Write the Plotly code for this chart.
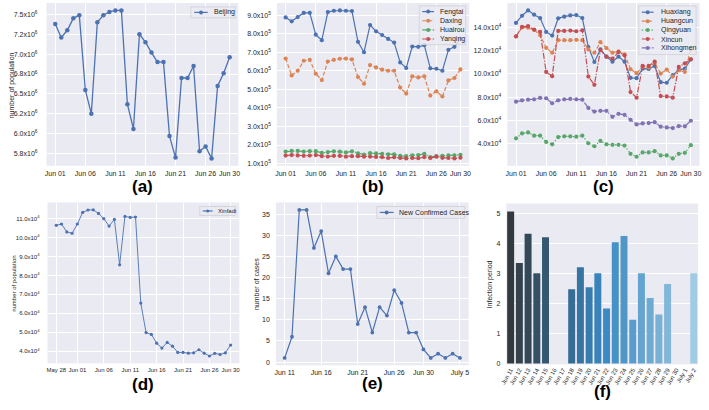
import plotly.graph_objects as go
import pandas as pd

W, H = 709, 410
FONT = "Liberation Sans, Arial, sans-serif"
TXT = "#262626"
C_BLUE, C_ORANGE, C_GREEN, C_RED, C_PURPLE = "#4C72B0", "#DD8452", "#55A868", "#C44E52", "#8172B3"

# ---------------- data ----------------
june_dates = [d.strftime("%Y-%m-%d") for d in pd.date_range("2020-06-01", "2020-06-30")]
xinfadi_dates = [d.strftime("%Y-%m-%d") for d in pd.date_range("2020-05-28", "2020-06-30")]
case_dates = [d.strftime("%Y-%m-%d") for d in pd.date_range("2020-06-11", "2020-07-05")]

beijing = [7.38e6, 7.21e6, 7.30e6, 7.45e6, 7.49e6, 6.55e6, 6.25e6, 7.40e6, 7.49e6, 7.53e6,
           7.55e6, 7.55e6, 6.37e6, 6.06e6, 7.25e6, 7.15e6, 7.02e6, 6.90e6, 6.90e6, 5.97e6,
           5.70e6, 6.70e6, 6.70e6, 6.85e6, 5.78e6, 5.84e6, 5.69e6, 6.60e6, 6.76e6, 6.96e6]

fengtai = [8.89e5, 8.68e5, 8.91e5, 9.13e5, 9.14e5, 7.96e5, 7.66e5, 9.18e5, 9.25e5, 9.27e5,
           9.25e5, 9.23e5, 7.57e5, 7.01e5, 8.48e5, 8.14e5, 7.94e5, 7.73e5, 7.53e5, 6.46e5,
           6.16e5, 7.32e5, 7.30e5, 7.39e5, 6.14e5, 6.12e5, 6.01e5, 7.14e5, 7.30e5, 7.75e5]
daxing = [6.67e5, 5.76e5, 6.01e5, 6.55e5, 6.60e5, 5.85e5, 5.51e5, 6.51e5, 6.60e5, 6.66e5,
          6.67e5, 6.62e5, 5.67e5, 5.31e5, 6.32e5, 6.19e5, 6.07e5, 6.01e5, 6.01e5, 5.10e5,
          4.78e5, 5.71e5, 5.65e5, 5.71e5, 4.67e5, 4.90e5, 4.62e5, 5.49e5, 5.62e5, 6.08e5]
huairou = [1.65e5, 1.68e5, 1.68e5, 1.65e5, 1.67e5, 1.67e5, 1.58e5, 1.62e5, 1.66e5, 1.64e5,
           1.60e5, 1.66e5, 1.55e5, 1.48e5, 1.56e5, 1.55e5, 1.53e5, 1.50e5, 1.50e5, 1.42e5,
           1.40e5, 1.45e5, 1.46e5, 1.52e5, 1.35e5, 1.40e5, 1.42e5, 1.44e5, 1.45e5, 1.47e5]
yanqing = [1.43e5, 1.46e5, 1.44e5, 1.42e5, 1.43e5, 1.46e5, 1.40e5, 1.38e5, 1.42e5, 1.41e5,
           1.37e5, 1.40e5, 1.40e5, 1.37e5, 1.38e5, 1.36e5, 1.35e5, 1.30e5, 1.34e5, 1.30e5,
           1.28e5, 1.30e5, 1.29e5, 1.35e5, 1.30e5, 1.37e5, 1.31e5, 1.30e5, 1.28e5, 1.32e5]

huaxiang = [14.37e4, 14.99e4, 15.45e4, 15.08e4, 14.79e4, 13.60e4, 13.29e4, 14.77e4, 14.91e4, 15.02e4,
            15.05e4, 14.79e4, 12.30e4, 11.02e4, 12.10e4, 11.48e4, 11.05e4, 11.48e4, 11.05e4, 9.66e4,
            9.63e4, 10.45e4, 10.43e4, 10.68e4, 9.29e4, 9.24e4, 9.89e4, 10.34e4, 10.45e4, 11.25e4]
huangcun = [13.20e4, 14.00e4, 13.97e4, 13.77e4, 13.32e4, 12.24e4, 11.82e4, 12.89e4, 12.89e4, 12.89e4,
            12.92e4, 12.89e4, 12.10e4, 11.82e4, 12.72e4, 12.21e4, 11.82e4, 11.93e4, 11.67e4, 10.40e4,
            10.06e4, 10.60e4, 10.54e4, 10.96e4, 10.03e4, 10.37e4, 9.77e4, 10.31e4, 10.17e4, 12.10e4]
qingyuan = [4.47e4, 4.89e4, 4.98e4, 4.70e4, 4.70e4, 4.16e4, 3.96e4, 4.58e4, 4.64e4, 4.64e4,
            4.61e4, 4.70e4, 4.05e4, 3.79e4, 4.25e4, 3.96e4, 3.91e4, 3.91e4, 3.85e4, 3.14e4,
            2.89e4, 3.26e4, 3.26e4, 3.37e4, 3.00e4, 3.00e4, 2.75e4, 3.14e4, 3.23e4, 3.88e4]
xincun = [13.23e4, 14.03e4, 14.11e4, 13.80e4, 13.60e4, 10.17e4, 9.80e4, 13.69e4, 13.69e4, 13.72e4,
          13.66e4, 13.74e4, 9.77e4, 9.06e4, 12.04e4, 11.48e4, 11.31e4, 11.87e4, 11.59e4, 8.44e4,
          7.96e4, 10.68e4, 10.68e4, 11.05e4, 8.10e4, 8.07e4, 7.96e4, 10.60e4, 10.91e4, 11.25e4]
xihongmen = [7.62e4, 7.73e4, 7.79e4, 7.82e4, 7.94e4, 7.91e4, 7.48e4, 7.73e4, 7.82e4, 7.85e4,
             7.82e4, 7.79e4, 7.08e4, 6.77e4, 6.83e4, 6.83e4, 6.32e4, 6.57e4, 6.49e4, 6.06e4,
             5.66e4, 5.75e4, 5.78e4, 5.86e4, 5.47e4, 5.41e4, 5.35e4, 5.52e4, 5.50e4, 5.98e4]

xinfadi = [10.65e4, 10.72e4, 10.30e4, 10.23e4, 10.72e4, 11.33e4, 11.46e4, 11.47e4, 11.28e4, 11.00e4,
           10.61e4, 10.96e4, 8.56e4, 11.12e4, 11.07e4, 11.09e4, 6.54e4, 4.98e4, 4.88e4, 4.42e4,
           4.16e4, 4.46e4, 4.26e4, 3.93e4, 3.93e4, 3.89e4, 3.91e4, 4.07e4, 3.89e4, 3.74e4,
           3.88e4, 3.82e4, 3.91e4, 4.32e4]

new_cases = [1, 6, 36, 36, 27, 31, 21, 25, 22, 22, 9, 13, 7, 13, 11, 17, 14, 7, 7, 3, 1, 2, 1, 2, 1]

period_cats = ["Jun 11", "Jun 12", "Jun 13", "Jun 14", "Jun 15", "Jun 16", "Jun 17", "Jun 18",
               "Jun 19", "Jun 20", "Jun 21", "Jun 22", "Jun 23", "Jun 24", "Jun 25", "Jun 26",
               "Jun 27", "Jun 28", "Jun 29", "Jun 30", "July 1", "July 2"]
infection_period = [5.05, 3.34, 4.31, 3.0, 4.2, None, None, 2.47, 3.2, 2.53, 3.0, 1.83, 4.03, 4.24,
                    1.45, 3.0, 2.18, 1.63, 2.64, None, None, 3.0]

# tick labels
june_tickvals = ["2020-06-01", "2020-06-06", "2020-06-11", "2020-06-16", "2020-06-21", "2020-06-26", "2020-06-30"]
june_ticktext = ["Jun 01", "Jun 06", "Jun 11", "Jun 16", "Jun 21", "Jun 26", "Jun 30"]
d_tickvals = ["2020-05-28"] + june_tickvals
d_ticktext = ["May 28"] + june_ticktext
e_tickvals = ["2020-06-11", "2020-06-16", "2020-06-21", "2020-06-26", "2020-06-30", "2020-07-05"]
e_ticktext = ["Jun 11", "Jun 16", "Jun 21", "Jun 26", "Jun 30", "July 5"]

a_tickvals = [5.75e6, 6.0e6, 6.25e6, 6.5e6, 6.75e6, 7.0e6, 7.25e6, 7.5e6]
a_ticktext = ["5.8x10<sup>6</sup>", "6.0x10<sup>6</sup>", "6.2x10<sup>6</sup>", "6.5x10<sup>6</sup>",
              "6.8x10<sup>6</sup>", "7.0x10<sup>6</sup>", "7.2x10<sup>6</sup>", "7.5x10<sup>6</sup>"]
b_tickvals = [1e5, 2e5, 3e5, 4e5, 5e5, 6e5, 7e5, 8e5, 9e5]
b_ticktext = ["%d.0x10<sup>5</sup>" % k for k in range(1, 10)]
c_tickvals = [4e4, 6e4, 8e4, 10e4, 12e4, 14e4, 16e4]
c_ticktext = ["%d.0x10<sup>4</sup>" % k for k in (4, 6, 8, 10, 12, 14, 16)]
d_ytickvals = [4e4, 5e4, 6e4, 7e4, 8e4, 9e4, 10e4, 11e4]
d_yticktext = ["%d.0x10<sup>4</sup>" % k for k in (4, 5, 6, 7, 8, 9, 10, 11)]

# ---------------- helpers ----------------
def X(px):
    return px / W

def Y(py):
    return 1 - py / H

def num_pad(vals, f=0.05):
    v = [x for x in vals if x is not None]
    lo, hi = min(v), max(v)
    s = hi - lo
    return [lo - f * s, hi + f * s]

def date_pad(dates, f=0.05):
    d0, d1 = pd.Timestamp(dates[0]), pd.Timestamp(dates[-1])
    s = (d1 - d0) * f
    return [(d0 - s).strftime("%Y-%m-%d %H:%M"), (d1 + s).strftime("%Y-%m-%d %H:%M")]

DASH = "4px,2px"
DASHDOT = "6px,1.6px,1.2px,1.6px"
DOT = "1.3px,2px"

fig = go.Figure()

def line(x, y, color, dash, ax, lw=1.3, ms=4.5):
    fig.add_trace(go.Scatter(x=x, y=y, mode="lines+markers", xaxis="x" + ax, yaxis="y" + ax,
                             line=dict(color=color, width=lw, dash=dash),
                             marker=dict(color=color, size=ms, line=dict(width=0)),
                             showlegend=False, hoverinfo="x+y"))

# (a)
line(june_dates, beijing, C_BLUE, "solid", "")
# (b)
line(june_dates, fengtai, C_BLUE, "solid", "2", 1.2, 4.2)
line(june_dates, daxing, C_ORANGE, DASH, "2", 1.2, 4.2)
line(june_dates, huairou, C_GREEN, DASHDOT, "2", 1.2, 4.2)
line(june_dates, yanqing, C_RED, DASHDOT, "2", 1.2, 4.2)
# (c)
line(june_dates, huaxiang, C_BLUE, "solid", "3", 1.2, 4.2)
line(june_dates, huangcun, C_ORANGE, DASH, "3", 1.2, 4.2)
line(june_dates, qingyuan, C_GREEN, DOT, "3", 1.2, 4.2)
line(june_dates, xincun, C_RED, DASHDOT, "3", 1.2, 4.2)
line(june_dates, xihongmen, C_PURPLE, DASHDOT, "3", 1.2, 4.2)
# (d)
line(xinfadi_dates, xinfadi, C_BLUE, "solid", "4", 0.9, 3.2)
# (e)
line(case_dates, new_cases, C_BLUE, "solid", "5", 1.2, 3.8)

# (f) palette (dark -> steel blue -> light)
stops = [(51, 51, 51), (55, 135, 192), (171, 208, 230)]
def blend(t):
    if t <= 0.5:
        a, b, u = stops[0], stops[1], t / 0.5
    else:
        a, b, u = stops[1], stops[2], (t - 0.5) / 0.5
    return "rgb(%d,%d,%d)" % tuple(round(a[k] + (b[k] - a[k]) * u) for k in range(3))
n = len(period_cats)
bar_colors = [blend((i + 1) / (n + 1)) for i in range(n)]
fig.add_trace(go.Bar(x=period_cats, y=infection_period, marker=dict(color=bar_colors, line=dict(width=0)),
                     width=0.8, xaxis="x6", yaxis="y6", showlegend=False))

# ---------------- axes ----------------
tickfont = dict(size=7, color=TXT, family=FONT)
smallfont = dict(size=6, color=TXT, family=FONT)
base = dict(showgrid=True, gridcolor="white", gridwidth=1, zeroline=False, showline=False,
            ticks="", tickfont=tickfont)

boxes = {
    "": (41, 235, 3, 167),
    "2": (274, 468.5, 3, 167),
    "3": (507, 701.5, 3, 167),
    "4": (42, 236, 204, 366),
    "5": (273, 468, 204, 368),
    "6": (506, 700, 205, 367),
}
lay = {}
for k, (x0, x1, y0, y1) in boxes.items():
    lay["xaxis" + k] = dict(base, domain=[X(x0), X(x1)], anchor="y" + k, ticklabelstandoff=2, tickangle=0)
    lay["yaxis" + k] = dict(base, domain=[Y(y1), Y(y0)], anchor="x" + k, ticklabelstandoff=5)

lay["xaxis"].update(type="date", range=date_pad(june_dates), tickvals=june_tickvals, ticktext=june_ticktext)
lay["yaxis"].update(range=num_pad(beijing), tickvals=a_tickvals, ticktext=a_ticktext, ticklabelstandoff=8)
lay["xaxis2"].update(type="date", range=date_pad(june_dates), tickvals=june_tickvals, ticktext=june_ticktext)
lay["yaxis2"].update(range=num_pad(fengtai + yanqing), tickvals=b_tickvals, ticktext=b_ticktext)
lay["xaxis3"].update(type="date", range=date_pad(june_dates), tickvals=june_tickvals, ticktext=june_ticktext)
lay["yaxis3"].update(range=num_pad(huaxiang + qingyuan), tickvals=c_tickvals, ticktext=c_ticktext)
lay["xaxis4"].update(type="date", range=date_pad(xinfadi_dates), tickvals=d_tickvals, ticktext=d_ticktext,
                     tickfont=smallfont, tickangle=0)
lay["yaxis4"].update(range=num_pad(xinfadi), tickvals=d_ytickvals, ticktext=d_yticktext,
                     tickfont=smallfont, ticklabelstandoff=7)
lay["xaxis5"].update(type="date", range=date_pad(case_dates), tickvals=e_tickvals, ticktext=e_ticktext)
lay["yaxis5"].update(range=num_pad(new_cases), tickvals=[0, 5, 10, 15, 20, 25, 30, 35])
lay["xaxis6"].update(type="category", range=[-0.5, n - 0.5], showgrid=False, tickangle=-60,
                     tickfont=smallfont, ticklabelstandoff=0)
lay["yaxis6"].update(range=[-0.03, 5.32], tickvals=[0, 1, 2, 3, 4, 5])

# ---------------- legends (drawn as decorations) ----------------
shapes, annotations = [], []

def legend(box, lx0, lx1, tx, rows, entries, fsize=7, ms=4):
    x0, x1, y0, y1 = box
    shapes.append(dict(type="rect", xref="paper", yref="paper", x0=X(x0), x1=X(x1), y0=Y(y1), y1=Y(y0),
                       fillcolor="rgba(234,234,242,0.8)", line=dict(color="#cfcfd6", width=0.8), layer="above"))
    for (name, color, dash), ry in zip(entries, rows):
        shapes.append(dict(type="line", xref="paper", yref="paper", x0=X(lx0), x1=X(lx1), y0=Y(ry), y1=Y(ry),
                           line=dict(color=color, width=1.2, dash=dash), layer="above"))
        shapes.append(dict(type="circle", xref="paper", yref="paper", xsizemode="pixel", ysizemode="pixel",
                           xanchor=X((lx0 + lx1) / 2), yanchor=Y(ry), x0=-ms / 2, x1=ms / 2, y0=-ms / 2, y1=ms / 2,
                           fillcolor=color, line=dict(width=0), layer="above"))
        annotations.append(dict(xref="paper", yref="paper", x=X(tx), y=Y(ry), text=name, showarrow=False,
                                xanchor="left", yanchor="middle", font=dict(size=fsize, color=TXT, family=FONT)))

legend((187, 232, 7, 18), 190.5, 204, 208, [12.5], [("Beijing", C_BLUE, "solid")])
legend((418, 465, 6, 45), 421, 433, 437, [11.7, 20.9, 30.1, 39.3],
       [("Fengtai", C_BLUE, "solid"), ("Daxing", C_ORANGE, DASH),
        ("Huairou", C_GREEN, DASHDOT), ("Yanqing", C_RED, DASHDOT)])
legend((640, 698, 6, 55), 643, 655, 660, [12.3, 21.3, 30.3, 39.3, 48.3],
       [("Huaxiang", C_BLUE, "solid"), ("Huangcun", C_ORANGE, DASH), ("Qingyuan", C_GREEN, DOT),
        ("Xincun", C_RED, DASHDOT), ("Xihongmen", C_PURPLE, DASHDOT)])
legend((196, 232, 208, 217), 199, 209, 212, [212.5], [("Xinfadi", C_BLUE, "solid")], fsize=6, ms=3)
legend((375, 464, 208, 220), 378, 392, 395, [214], [("New Confirmed Cases", C_BLUE, "solid")])

# axis titles
def vtitle(px, py, text, size=7):
    annotations.append(dict(xref="paper", yref="paper", x=X(px), y=Y(py), text=text, showarrow=False,
                            textangle=-90, xanchor="center", yanchor="middle",
                            font=dict(size=size, color=TXT, family=FONT)))

vtitle(6, 86, "number of population")
vtitle(8, 286, "number of population", 6)
vtitle(254, 286, "number of cases")
vtitle(489, 286, "Infection period")

# panel labels
for lbl, px, py in [("(a)", 138, 188), ("(b)", 371.5, 188), ("(c)", 604, 188),
                    ("(d)", 139, 387), ("(e)", 371, 386), ("(f)", 603, 394)]:
    annotations.append(dict(xref="paper", yref="paper", x=X(px), y=Y(py), text="<b>%s</b>" % lbl,
                            showarrow=False, xanchor="center", yanchor="middle",
                            font=dict(size=17, color="black", family=FONT)))

fig.update_layout(width=W, height=H, margin=dict(l=0, r=0, t=0, b=0), autosize=False,
                  paper_bgcolor="white", plot_bgcolor="#EAEAF2", font=dict(family=FONT, color=TXT),
                  shapes=shapes, annotations=annotations, showlegend=False, bargap=0.2, **lay)

fig.write_html("out.html", config={"displayModeBar": False},
               post_script="document.body.style.margin='0';document.body.style.padding='0';"
                           "document.body.style.overflow='hidden';")
